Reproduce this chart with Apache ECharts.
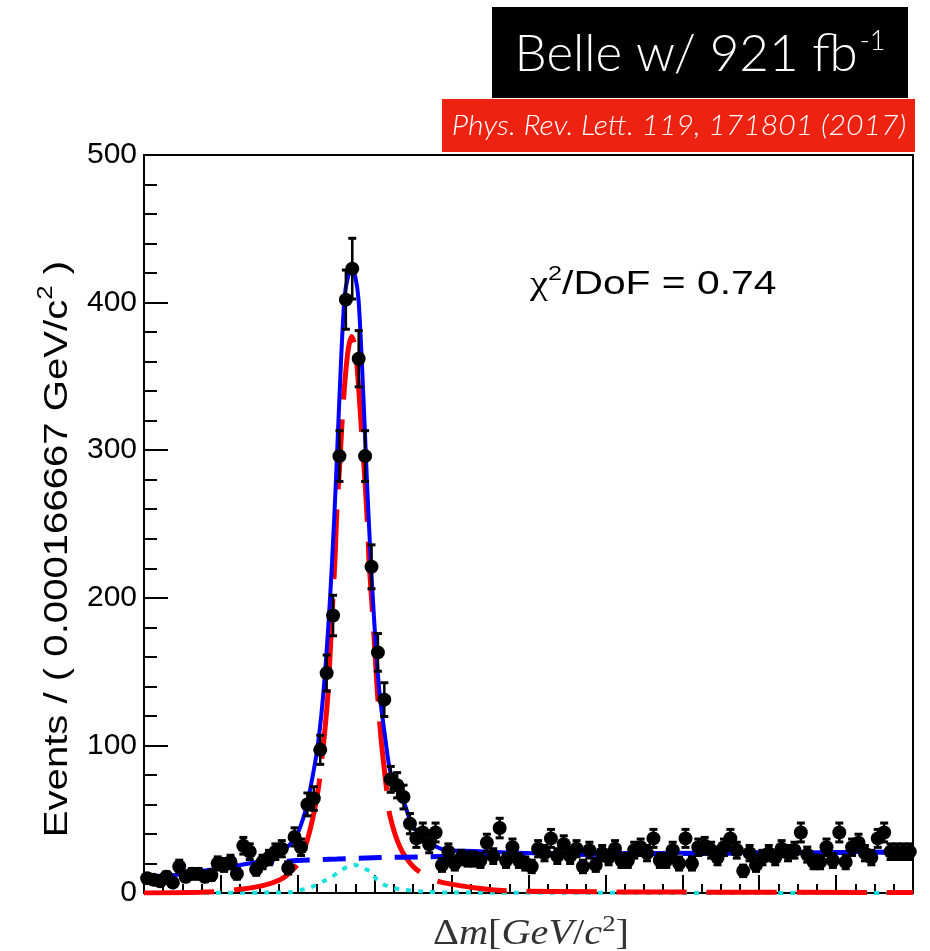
<!DOCTYPE html>
<html>
<head>
<meta charset="utf-8">
<script src="https://cdn.jsdelivr.net/npm/echarts@6/dist/echarts.min.js"></script>
<style>
html,body{margin:0;padding:0;background:#fff;}
#chart{width:930px;height:951px;}
</style>
</head>
<body>
<div id="chart"></div>
<script>
// ---- Binning (Δm axis, GeV) ----
const xMin = 0.140;
const xMax = 0.160;
const nBins = 120;
const binWidth = (xMax - xMin) / nBins; // 0.000166667 GeV

// ---- Data: events per bin ----
const counts = [
  10, 9, 8, 11, 7, 18, 11, 13, 13, 11,
  12, 20, 19, 21, 13, 32, 28, 16, 21, 24,
  28, 30, 17, 38, 31, 60, 64, 97, 149, 188,
  296, 402, 423, 362, 296, 221, 163, 131, 77, 73,
  65, 47, 37, 41, 33, 41, 19, 28, 20, 24,
  23, 23, 22, 34, 25, 44, 22, 31, 22, 20,
  18, 30, 27, 37, 25, 33, 25, 30, 18, 29,
  19, 27, 24, 30, 22, 22, 29, 31, 27, 37,
  22, 22, 29, 20, 37, 20, 31, 32, 29, 24,
  31, 37, 29, 15, 27, 19, 24, 27, 24, 30,
  27, 29, 41, 26, 21, 21, 31, 22, 41, 21,
  31, 34, 27, 24, 37, 41, 28, 28, 28, 28
];

// ---- Fit curves (x in GeV) ----
const totalX = [0.14000, 0.14016, 0.14075, 0.14164, 0.14250, 0.14302, 0.14328, 0.14354, 0.14393, 0.14419,
  0.14440, 0.14454, 0.14467, 0.14480, 0.14489, 0.14499, 0.14508, 0.14521, 0.14531, 0.14540,
  0.14549, 0.14558, 0.14571, 0.14580, 0.14590, 0.14599, 0.14612, 0.14628, 0.14642, 0.14674,
  0.14700, 0.14744, 0.14788, 0.14856, 0.14944, 0.15030, 0.15186, 0.15446, 0.15706, 0.16000];
const totalY = [10, 10.5, 12, 15.5, 19, 21.5, 23.5, 27, 37, 55,
  81, 104, 137, 183, 224, 278, 334, 402, 418, 422,
  418, 402, 334, 278, 224, 183, 137, 104, 81, 63,
  45, 34, 29, 28.5, 27.5, 27, 27, 27.3, 27.5, 28];

const signalX = [0.14000, 0.14146, 0.14190, 0.14250, 0.14309, 0.14354, 0.14380, 0.14406, 0.14432, 0.14453,
  0.14463, 0.14471, 0.14479, 0.14488, 0.14497, 0.14501, 0.14510, 0.14517, 0.14523, 0.14531,
  0.14540, 0.14549, 0.14557, 0.14566, 0.14575, 0.14583, 0.14585, 0.14596, 0.14606, 0.14616,
  0.14631, 0.14640, 0.14666, 0.14700, 0.14744, 0.14778, 0.14874, 0.14944, 0.15186, 0.16000];
const signalY = [0, 0.5, 1, 2.5, 5, 9, 14, 22, 43, 70,
  92, 112, 137, 183, 228, 255, 295, 327, 348, 368,
  377, 370, 347, 312, 278, 240, 226, 183, 140, 106,
  70, 52, 31, 18, 10, 7, 3, 1.5, 0.8, 0.3];

const bkgX = [0.14000, 0.14075, 0.14146, 0.14224, 0.14302, 0.14398, 0.14502, 0.14614, 0.14744, 0.14926,
  0.15186, 0.15446, 0.15706, 0.16000];
const bkgY = [9.5, 13, 15.5, 18, 20, 22, 23, 24, 24.5, 25.5,
  26.3, 26.8, 27.3, 27.7];

const peakingX = [0.14000, 0.14380, 0.14406, 0.14432, 0.14466, 0.14484, 0.14510, 0.14528, 0.14549, 0.14567,
  0.14588, 0.14606, 0.14622, 0.14640, 0.14666, 0.14726, 0.14796, 0.16000];
const peakingY = [0, 0.5, 2, 3.5, 8, 10, 15, 17.5, 19, 17,
  14.5, 9, 6, 4, 2.5, 1, 0.3, 0];

// ---- Axis ticks ----
const yTicks = [0, 100, 200, 300, 400, 500];

const zip = (xs, ys) => xs.map((x, i) => [x, ys[i]]);
const pointData = counts.map((c, i) => [xMin + (i + 0.5) * binWidth, c, Math.sqrt(c)]);

const chart = echarts.init(document.getElementById('chart'), null, {renderer: 'canvas'});

const sansFont = '"Liberation Sans", Arial, Helvetica, sans-serif';
const serifFont = '"Liberation Serif", "DejaVu Serif", serif';
const titleFont = 'Lato, "Noto Sans", sans-serif';

chart.setOption({
  animation: false,
  backgroundColor: '#fff',
  grid: {left: 144, right: 17, top: 155, bottom: 58, show: true, borderColor: '#000', borderWidth: 2, backgroundColor: 'transparent'},
  xAxis: {
    type: 'value', min: xMin, max: xMax, interval: 0.002,
    axisLine: {show: true, onZero: false, lineStyle: {color: '#000', width: 2}},
    axisTick: {show: true, inside: true, length: 18, lineStyle: {color: '#000', width: 2}},
    minorTick: {show: true, splitNumber: 4, length: 9, lineStyle: {color: '#000', width: 2}},
    axisLabel: {show: false},
    splitLine: {show: false}
  },
  yAxis: {
    type: 'value', min: yTicks[0], max: yTicks[yTicks.length - 1], interval: 100,
    axisLine: {show: true, onZero: false, lineStyle: {color: '#000', width: 2}},
    axisTick: {show: true, inside: true, length: 24, lineStyle: {color: '#000', width: 2}},
    minorTick: {show: true, splitNumber: 5, length: 13, lineStyle: {color: '#000', width: 2}},
    axisLabel: {show: true, color: '#000', fontSize: 30, fontFamily: sansFont, margin: 7,
      formatter: v => yTicks.includes(v) ? String(v) : ''},
    splitLine: {show: false}
  },
  series: [
    {type: 'line', name: 'peaking', data: zip(peakingX, peakingY), showSymbol: false, smooth: 0.3, z: 2,
      lineStyle: {color: '#19e0e0', width: 4, type: [5, 7]}},
    {type: 'line', name: 'signal', data: zip(signalX, signalY), showSymbol: false, smooth: 0.3, z: 3,
      lineStyle: {color: '#ff0000', width: 5, type: [70, 20]}},
    {type: 'line', name: 'background', data: zip(bkgX, bkgY), showSymbol: false, smooth: 0.3, z: 4,
      lineStyle: {color: '#0000ff', width: 5, type: [23, 13]}},
    {type: 'line', name: 'total', data: zip(totalX, totalY), showSymbol: false, smooth: 0.3, z: 5,
      lineStyle: {color: '#0000ff', width: 4}},
    {type: 'custom', name: 'errors', data: pointData, z: 6,
      renderItem: function (params, api) {
        const x = api.value(0), y = api.value(1), e = api.value(2);
        const top = api.coord([x, y + e]);
        const bot = api.coord([x, y - e]);
        const cw = 4;
        return {type: 'group', children: [
          {type: 'line', shape: {x1: top[0], y1: top[1], x2: bot[0], y2: bot[1]}, style: {stroke: '#000', lineWidth: 2.5}},
          {type: 'line', shape: {x1: top[0] - cw, y1: top[1], x2: top[0] + cw, y2: top[1]}, style: {stroke: '#000', lineWidth: 3}},
          {type: 'line', shape: {x1: bot[0] - cw, y1: bot[1], x2: bot[0] + cw, y2: bot[1]}, style: {stroke: '#000', lineWidth: 3}}
        ]};
      }},
    {type: 'scatter', name: 'data', data: pointData.map(p => [p[0], p[1]]), symbol: 'circle', symbolSize: 14, z: 7,
      itemStyle: {color: '#000', opacity: 1}}
  ],
  graphic: [
    {type: 'rect', shape: {x: 492, y: 7, width: 416, height: 91}, style: {fill: '#000'}, z: 10},
    {type: 'text', x: 700, y: 53, z: 11, style: {
      text: '{a|Belle w/ 921 fb}{s|-1}', align: 'center', verticalAlign: 'middle',
      rich: {
        a: {fill: '#fff', fontSize: 51, fontFamily: titleFont, fontWeight: 300, lineHeight: 54, verticalAlign: 'bottom'},
        s: {fill: '#fff', fontSize: 27, fontFamily: titleFont, fontWeight: 300, lineHeight: 54, verticalAlign: 'top', padding: [2, 0, 0, 2]}
      }}},
    {type: 'rect', shape: {x: 442, y: 99, width: 473, height: 53}, style: {fill: '#ee2211'}, z: 10},
    {type: 'text', x: 679, y: 126, scaleX: 1.08, z: 11, style: {
      text: 'Phys. Rev. Lett. 119, 171801 (2017)', align: 'center', verticalAlign: 'middle',
      fill: '#fff', fontSize: 28, fontStyle: 'italic', fontWeight: 300, fontFamily: titleFont}},
    {type: 'text', x: 530, y: 283, scaleX: 1.2, z: 11, style: {
      text: '{g|χ}{s|2}{a|/DoF = 0.74}', align: 'left', verticalAlign: 'middle',
      rich: {
        g: {fill: '#000', fontSize: 34, fontFamily: serifFont, lineHeight: 38, verticalAlign: 'bottom'},
        a: {fill: '#000', fontSize: 34, fontFamily: sansFont, lineHeight: 38, verticalAlign: 'bottom'},
        s: {fill: '#000', fontSize: 21, fontFamily: sansFont, lineHeight: 38, verticalAlign: 'top'}
      }}},
    {type: 'text', x: 55, y: 549, rotation: Math.PI / 2, scaleX: 1.18, z: 11, style: {
      text: '{a|Events / ( 0.000166667 GeV/c}{s|2}{a| )}', align: 'center', verticalAlign: 'middle',
      rich: {
        a: {fill: '#000', fontSize: 34, fontFamily: sansFont, lineHeight: 40, verticalAlign: 'bottom'},
        s: {fill: '#000', fontSize: 22, fontFamily: sansFont, lineHeight: 40, verticalAlign: 'top'}
      }}},
    {type: 'text', x: 531, y: 933, scaleX: 1.12, z: 11, style: {
      text: '{n|Δ}{i|m}{n|[}{i|GeV}{n|/}{i|c}{s|2}{n|]}', align: 'center', verticalAlign: 'middle',
      rich: {
        n: {fill: '#333', fontSize: 36, fontFamily: serifFont, lineHeight: 40, verticalAlign: 'bottom'},
        i: {fill: '#333', fontSize: 36, fontFamily: serifFont, fontStyle: 'italic', lineHeight: 40, verticalAlign: 'bottom'},
        s: {fill: '#333', fontSize: 24, fontFamily: serifFont, lineHeight: 40, verticalAlign: 'top'}
      }}}
  ]
});
</script>
</body>
</html>
